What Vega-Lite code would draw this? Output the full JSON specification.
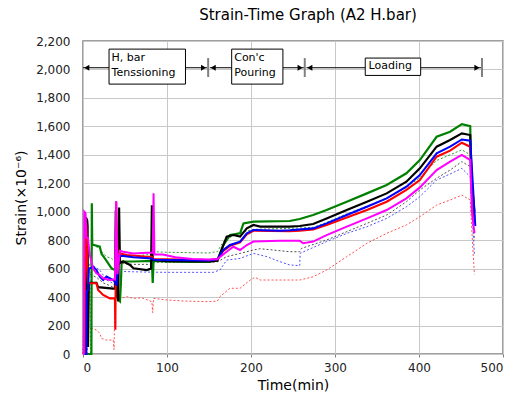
{
  "$schema": "https://vega.github.io/schema/vega-lite/v6.json",
  "width": 420,
  "height": 313,
  "autosize": {"type": "none"},
  "padding": {"left": 83, "top": 41, "right": 15, "bottom": 42},
  "background": "white",
  "title": {"text": "Strain-Time Graph (A2 H.bar)", "font": "DejaVu Sans", "fontSize": 15, "fontWeight": "normal", "color": "#000000", "anchor": "middle", "dx": 15, "offset": 12},
  "config": {
    "view": {"stroke": "#808080", "strokeWidth": 1.5},
    "axis": {"labelFont": "DejaVu Sans", "labelFontSize": 12, "labelColor": "#222222", "labelOverlap": false, "titleFont": "DejaVu Sans", "titleFontSize": 14, "titleFontWeight": "normal", "titleColor": "#000000", "gridColor": "#C8C8C8", "gridWidth": 1, "domain": false, "tickColor": "#808080"}
  },
  "resolve": {"scale": {"color": "independent", "strokeWidth": "independent"}},
  "datasets": {
    "solid": [
      {"s":"Green","t":0,"v":0},{"s":"Green","t":10,"v":0},{"s":"Green","t":10.5,"v":1060},{"s":"Green","t":11,"v":770},{"s":"Green","t":20,"v":755},{"s":"Green","t":22,"v":705},{"s":"Green","t":26,"v":672},{"s":"Green","t":30,"v":637},{"s":"Green","t":34,"v":602},{"s":"Green","t":38,"v":590},{"s":"Green","t":41,"v":560},{"s":"Green","t":42,"v":380},{"s":"Green","t":44,"v":370},{"s":"Green","t":45,"v":480},{"s":"Green","t":46,"v":650},{"s":"Green","t":60,"v":650},{"s":"Green","t":82,"v":655},{"s":"Green","t":83,"v":500},{"s":"Green","t":84,"v":655},{"s":"Green","t":100,"v":650},{"s":"Green","t":130,"v":648},{"s":"Green","t":150,"v":648},{"s":"Green","t":160,"v":660},{"s":"Green","t":167,"v":766},{"s":"Green","t":175,"v":836},{"s":"Green","t":187,"v":848},{"s":"Green","t":191,"v":918},{"s":"Green","t":203,"v":930},{"s":"Green","t":246,"v":935},{"s":"Green","t":258,"v":949},{"s":"Green","t":274,"v":977},{"s":"Green","t":290,"v":1012},{"s":"Green","t":314,"v":1070},{"s":"Green","t":338,"v":1129},{"s":"Green","t":361.5,"v":1188},{"s":"Green","t":385,"v":1270},{"s":"Green","t":401,"v":1363},{"s":"Green","t":421,"v":1527},{"s":"Green","t":437,"v":1562},{"s":"Green","t":451,"v":1616},{"s":"Green","t":461,"v":1602},{"s":"Green","t":462,"v":1200},{"s":"Green","t":465,"v":1000},

      {"s":"Black","t":0,"v":0},{"s":"Black","t":3,"v":0},{"s":"Black","t":3.5,"v":960},{"s":"Black","t":5,"v":940},{"s":"Black","t":5.5,"v":900},{"s":"Black","t":6,"v":50},{"s":"Black","t":7,"v":500},{"s":"Black","t":16,"v":500},{"s":"Black","t":18,"v":470},{"s":"Black","t":36,"v":460},{"s":"Black","t":38,"v":460},{"s":"Black","t":39,"v":1010},{"s":"Black","t":40,"v":420},{"s":"Black","t":42,"v":370},{"s":"Black","t":43,"v":1030},{"s":"Black","t":44,"v":640},{"s":"Black","t":48,"v":650},{"s":"Black","t":56,"v":626},{"s":"Black","t":60,"v":602},{"s":"Black","t":76,"v":590},{"s":"Black","t":81,"v":600},{"s":"Black","t":82,"v":1045},{"s":"Black","t":83,"v":660},{"s":"Black","t":100,"v":652},{"s":"Black","t":150,"v":650},{"s":"Black","t":160,"v":655},{"s":"Black","t":171,"v":825},{"s":"Black","t":179,"v":836},{"s":"Black","t":187,"v":825},{"s":"Black","t":195,"v":883},{"s":"Black","t":203,"v":907},{"s":"Black","t":211,"v":895},{"s":"Black","t":246,"v":895},{"s":"Black","t":258,"v":900},{"s":"Black","t":274,"v":914},{"s":"Black","t":290,"v":953},{"s":"Black","t":314,"v":1012},{"s":"Black","t":338,"v":1070},{"s":"Black","t":361.5,"v":1129},{"s":"Black","t":385,"v":1211},{"s":"Black","t":401,"v":1305},{"s":"Black","t":421,"v":1457},{"s":"Black","t":437,"v":1504},{"s":"Black","t":451,"v":1551},{"s":"Black","t":461,"v":1539},{"s":"Black","t":463,"v":1200},{"s":"Black","t":466,"v":1000},

      {"s":"Red","t":0,"v":0},{"s":"Red","t":2,"v":0},{"s":"Red","t":2.5,"v":950},{"s":"Red","t":4,"v":900},{"s":"Red","t":5,"v":600},{"s":"Red","t":6,"v":497},{"s":"Red","t":16,"v":497},{"s":"Red","t":18,"v":450},{"s":"Red","t":24,"v":415},{"s":"Red","t":32,"v":391},{"s":"Red","t":38,"v":391},{"s":"Red","t":38.5,"v":170},{"s":"Red","t":39.5,"v":1070},{"s":"Red","t":41,"v":700},{"s":"Red","t":44,"v":707},{"s":"Red","t":52,"v":696},{"s":"Red","t":76,"v":684},{"s":"Red","t":82,"v":684},{"s":"Red","t":84,"v":668},{"s":"Red","t":100,"v":665},{"s":"Red","t":150,"v":660},{"s":"Red","t":160,"v":665},{"s":"Red","t":167,"v":725},{"s":"Red","t":175,"v":760},{"s":"Red","t":187,"v":785},{"s":"Red","t":195,"v":842},{"s":"Red","t":203,"v":866},{"s":"Red","t":246,"v":864},{"s":"Red","t":258,"v":867},{"s":"Red","t":274,"v":875},{"s":"Red","t":290,"v":907},{"s":"Red","t":314,"v":960},{"s":"Red","t":338,"v":1012},{"s":"Red","t":361.5,"v":1070},{"s":"Red","t":385,"v":1153},{"s":"Red","t":401,"v":1223},{"s":"Red","t":421,"v":1387},{"s":"Red","t":437,"v":1429},{"s":"Red","t":451,"v":1485},{"s":"Red","t":461,"v":1457},{"s":"Red","t":463,"v":1200},{"s":"Red","t":466,"v":950},

      {"s":"Blue","t":0,"v":0},{"s":"Blue","t":4,"v":0},{"s":"Blue","t":4.5,"v":440},{"s":"Blue","t":6,"v":450},{"s":"Blue","t":7,"v":600},{"s":"Blue","t":12,"v":614},{"s":"Blue","t":16,"v":590},{"s":"Blue","t":20,"v":544},{"s":"Blue","t":24,"v":520},{"s":"Blue","t":28,"v":544},{"s":"Blue","t":36,"v":520},{"s":"Blue","t":38,"v":508},{"s":"Blue","t":40,"v":480},{"s":"Blue","t":42,"v":690},{"s":"Blue","t":48,"v":689},{"s":"Blue","t":60,"v":680},{"s":"Blue","t":82,"v":672},{"s":"Blue","t":84,"v":662},{"s":"Blue","t":100,"v":660},{"s":"Blue","t":150,"v":658},{"s":"Blue","t":160,"v":665},{"s":"Blue","t":167,"v":731},{"s":"Blue","t":175,"v":766},{"s":"Blue","t":187,"v":790},{"s":"Blue","t":195,"v":848},{"s":"Blue","t":203,"v":872},{"s":"Blue","t":234.5,"v":867},{"s":"Blue","t":246,"v":870},{"s":"Blue","t":274,"v":883},{"s":"Blue","t":290,"v":918},{"s":"Blue","t":314,"v":977},{"s":"Blue","t":338,"v":1035},{"s":"Blue","t":361.5,"v":1094},{"s":"Blue","t":385,"v":1176},{"s":"Blue","t":401,"v":1258},{"s":"Blue","t":421,"v":1410},{"s":"Blue","t":437,"v":1457},{"s":"Blue","t":451,"v":1508},{"s":"Blue","t":461,"v":1499},{"s":"Blue","t":463,"v":1300},{"s":"Blue","t":466,"v":1000},{"s":"Blue","t":467,"v":900},

      {"s":"Magenta","t":0,"v":0},{"s":"Magenta","t":1,"v":0},{"s":"Magenta","t":1.5,"v":1000},{"s":"Magenta","t":3,"v":990},{"s":"Magenta","t":4,"v":820},{"s":"Magenta","t":6,"v":813},{"s":"Magenta","t":8,"v":700},{"s":"Magenta","t":12,"v":600},{"s":"Magenta","t":16,"v":567},{"s":"Magenta","t":20,"v":555},{"s":"Magenta","t":24,"v":532},{"s":"Magenta","t":32,"v":520},{"s":"Magenta","t":38,"v":525},{"s":"Magenta","t":39.5,"v":1075},{"s":"Magenta","t":41,"v":560},{"s":"Magenta","t":44,"v":725},{"s":"Magenta","t":48,"v":719},{"s":"Magenta","t":60,"v":707},{"s":"Magenta","t":76,"v":712},{"s":"Magenta","t":83,"v":712},{"s":"Magenta","t":84,"v":1130},{"s":"Magenta","t":85,"v":700},{"s":"Magenta","t":95,"v":700},{"s":"Magenta","t":110,"v":680},{"s":"Magenta","t":130,"v":668},{"s":"Magenta","t":150,"v":665},{"s":"Magenta","t":160,"v":668},{"s":"Magenta","t":171,"v":719},{"s":"Magenta","t":179,"v":754},{"s":"Magenta","t":187,"v":731},{"s":"Magenta","t":195,"v":766},{"s":"Magenta","t":203,"v":790},{"s":"Magenta","t":234.5,"v":796},{"s":"Magenta","t":258,"v":796},{"s":"Magenta","t":262,"v":778},{"s":"Magenta","t":274,"v":790},{"s":"Magenta","t":290,"v":836},{"s":"Magenta","t":314,"v":895},{"s":"Magenta","t":338,"v":953},{"s":"Magenta","t":361.5,"v":1012},{"s":"Magenta","t":385,"v":1094},{"s":"Magenta","t":401,"v":1171},{"s":"Magenta","t":421,"v":1293},{"s":"Magenta","t":437,"v":1352},{"s":"Magenta","t":451,"v":1399},{"s":"Magenta","t":461,"v":1363},{"s":"Magenta","t":463,"v":1000},{"s":"Magenta","t":466,"v":850}
    ],
    "dotted": [
      {"s":"GreenD","t":0,"v":0},{"s":"GreenD","t":9,"v":0},{"s":"GreenD","t":9.5,"v":700},{"s":"GreenD","t":12,"v":766},{"s":"GreenD","t":20,"v":742},{"s":"GreenD","t":24,"v":707},{"s":"GreenD","t":28,"v":684},{"s":"GreenD","t":34,"v":672},{"s":"GreenD","t":38,"v":650},{"s":"GreenD","t":42,"v":600},{"s":"GreenD","t":44,"v":690},{"s":"GreenD","t":60,"v":690},{"s":"GreenD","t":82,"v":700},{"s":"GreenD","t":84,"v":719},{"s":"GreenD","t":100,"v":715},{"s":"GreenD","t":150,"v":710},{"s":"GreenD","t":160,"v":720},{"s":"GreenD","t":167,"v":790},{"s":"GreenD","t":183,"v":848},{"s":"GreenD","t":203,"v":876},{"s":"GreenD","t":246,"v":883},{"s":"GreenD","t":274,"v":890},{"s":"GreenD","t":290,"v":925},{"s":"GreenD","t":314,"v":985},{"s":"GreenD","t":338,"v":1040},{"s":"GreenD","t":361.5,"v":1095},{"s":"GreenD","t":385,"v":1170},{"s":"GreenD","t":401,"v":1240},{"s":"GreenD","t":421,"v":1360},{"s":"GreenD","t":437,"v":1400},{"s":"GreenD","t":451,"v":1435},{"s":"GreenD","t":461,"v":1400},{"s":"GreenD","t":463,"v":1100},{"s":"GreenD","t":466,"v":900},

      {"s":"GrayD","t":0,"v":0},{"s":"GrayD","t":5,"v":0},{"s":"GrayD","t":5.5,"v":600},{"s":"GrayD","t":8,"v":560},{"s":"GrayD","t":16,"v":540},{"s":"GrayD","t":24,"v":500},{"s":"GrayD","t":36,"v":470},{"s":"GrayD","t":40,"v":450},{"s":"GrayD","t":42,"v":600},{"s":"GrayD","t":44,"v":637},{"s":"GrayD","t":60,"v":630},{"s":"GrayD","t":82,"v":630},{"s":"GrayD","t":84,"v":645},{"s":"GrayD","t":100,"v":645},{"s":"GrayD","t":150,"v":643},{"s":"GrayD","t":160,"v":648},{"s":"GrayD","t":171,"v":684},{"s":"GrayD","t":187,"v":707},{"s":"GrayD","t":203,"v":731},{"s":"GrayD","t":211,"v":740},{"s":"GrayD","t":246,"v":719},{"s":"GrayD","t":258,"v":719},{"s":"GrayD","t":260,"v":742},{"s":"GrayD","t":290,"v":801},{"s":"GrayD","t":314,"v":860},{"s":"GrayD","t":338,"v":918},{"s":"GrayD","t":361.5,"v":977},{"s":"GrayD","t":385,"v":1070},{"s":"GrayD","t":401,"v":1153},{"s":"GrayD","t":421,"v":1235},{"s":"GrayD","t":437,"v":1293},{"s":"GrayD","t":451,"v":1352},{"s":"GrayD","t":461,"v":1317},{"s":"GrayD","t":463,"v":1050},{"s":"GrayD","t":466,"v":800},

      {"s":"BlueD","t":0,"v":0},{"s":"BlueD","t":1,"v":240},{"s":"BlueD","t":2,"v":100},{"s":"BlueD","t":6,"v":600},{"s":"BlueD","t":8,"v":640},{"s":"BlueD","t":12,"v":620},{"s":"BlueD","t":20,"v":590},{"s":"BlueD","t":28,"v":520},{"s":"BlueD","t":36,"v":497},{"s":"BlueD","t":40,"v":470},{"s":"BlueD","t":42,"v":560},{"s":"BlueD","t":46,"v":580},{"s":"BlueD","t":60,"v":578},{"s":"BlueD","t":82,"v":575},{"s":"BlueD","t":100,"v":574},{"s":"BlueD","t":155,"v":574},{"s":"BlueD","t":163,"v":590},{"s":"BlueD","t":171,"v":660},{"s":"BlueD","t":187,"v":672},{"s":"BlueD","t":203,"v":707},{"s":"BlueD","t":219,"v":684},{"s":"BlueD","t":234.5,"v":649},{"s":"BlueD","t":246,"v":626},{"s":"BlueD","t":258,"v":621},{"s":"BlueD","t":258.5,"v":708},{"s":"BlueD","t":290,"v":790},{"s":"BlueD","t":314,"v":848},{"s":"BlueD","t":338,"v":895},{"s":"BlueD","t":361.5,"v":953},{"s":"BlueD","t":385,"v":1035},{"s":"BlueD","t":401,"v":1106},{"s":"BlueD","t":421,"v":1223},{"s":"BlueD","t":437,"v":1265},{"s":"BlueD","t":451,"v":1305},{"s":"BlueD","t":461,"v":1246},{"s":"BlueD","t":463,"v":1000},{"s":"BlueD","t":466,"v":700},

      {"s":"RedD","t":0,"v":0},{"s":"RedD","t":3,"v":700},{"s":"RedD","t":4,"v":200},{"s":"RedD","t":6,"v":192},{"s":"RedD","t":16,"v":169},{"s":"RedD","t":20,"v":145},{"s":"RedD","t":22,"v":110},{"s":"RedD","t":28,"v":98},{"s":"RedD","t":36,"v":98},{"s":"RedD","t":37,"v":30},{"s":"RedD","t":38,"v":410},{"s":"RedD","t":44,"v":391},{"s":"RedD","t":52,"v":403},{"s":"RedD","t":60,"v":391},{"s":"RedD","t":70,"v":395},{"s":"RedD","t":82,"v":368},{"s":"RedD","t":83,"v":290},{"s":"RedD","t":84,"v":391},{"s":"RedD","t":100,"v":380},{"s":"RedD","t":120,"v":372},{"s":"RedD","t":150,"v":368},{"s":"RedD","t":160,"v":372},{"s":"RedD","t":163,"v":403},{"s":"RedD","t":175,"v":462},{"s":"RedD","t":187,"v":462},{"s":"RedD","t":199,"v":520},{"s":"RedD","t":205,"v":539},{"s":"RedD","t":211,"v":520},{"s":"RedD","t":246,"v":520},{"s":"RedD","t":258,"v":520},{"s":"RedD","t":274,"v":543},{"s":"RedD","t":290,"v":590},{"s":"RedD","t":314,"v":684},{"s":"RedD","t":338,"v":778},{"s":"RedD","t":361.5,"v":848},{"s":"RedD","t":385,"v":907},{"s":"RedD","t":401,"v":965},{"s":"RedD","t":421,"v":1047},{"s":"RedD","t":437,"v":1082},{"s":"RedD","t":451,"v":1117},{"s":"RedD","t":461,"v":1082},{"s":"RedD","t":464,"v":750},{"s":"RedD","t":466,"v":560}
    ],
    "spans": [
      {"a":0,"b":148,"l":4.5,"r":143.5},
      {"a":151,"b":263,"l":155,"r":258.5},
      {"a":266,"b":474,"l":270,"r":469}
    ],
    "marks": [{"m":149},{"m":264},{"m":475}],
    "boxes": [
      {"a":31,"b":122,"lo":1897,"hi":2143},
      {"a":177,"b":238,"lo":1897,"hi":2143},
      {"a":336,"b":402,"lo":1958,"hi":2080}
    ],
    "labels": [
      {"t":34,"v":2080,"txt":"H, bar"},
      {"t":34,"v":1975,"txt":"Tenssioning"},
      {"t":180,"v":2080,"txt":"Con'c"},
      {"t":180,"v":1975,"txt":"Pouring"},
      {"t":340,"v":2022,"txt":"Loading"}
    ]
  },
  "layer": [
    {
      "data": {"name": "dotted"},
      "mark": {"type": "line", "strokeWidth": 1, "strokeDash": [2, 2], "interpolate": "linear"},
      "encoding": {
        "x": {"field": "t", "type": "quantitative", "scale": {"domain": [0, 500]}, "axis": {"values": [0, 100, 200, 300, 400, 500], "title": "Time(min)", "tickSize": 3, "labelPadding": 5, "titlePadding": 5, "grid": true, "labelOverlap": false}},
        "y": {"field": "v", "type": "quantitative", "scale": {"domain": [0, 2200]}, "axis": {"values": [0, 200, 400, 600, 800, 1000, 1200, 1400, 1600, 1800, 2000, 2200], "tickCount": 12, "format": ",.0f", "ticks": false, "labelPadding": 13, "title": "Strain(×10⁻⁶)", "titlePadding": 7, "grid": true, "labelOverlap": false, "labelSeparation": 0}},
        "color": {"field": "s", "type": "nominal", "legend": null, "scale": {"domain": ["GreenD", "GrayD", "BlueD", "RedD"], "range": ["#2E9A2E", "#505050", "#5050FF", "#FF5050"]}}
      }
    },
    {
      "data": {"name": "solid"},
      "mark": {"type": "line", "interpolate": "linear"},
      "encoding": {
        "x": {"field": "t", "type": "quantitative", "axis": {"values": [0, 100, 200, 300, 400, 500], "title": "Time(min)", "tickSize": 3, "labelPadding": 5, "titlePadding": 5, "grid": true, "labelOverlap": false}},
        "y": {"field": "v", "type": "quantitative", "axis": {"values": [0, 200, 400, 600, 800, 1000, 1200, 1400, 1600, 1800, 2000, 2200], "tickCount": 12, "format": ",.0f", "ticks": false, "labelPadding": 13, "title": "Strain(×10⁻⁶)", "titlePadding": 7, "grid": true, "labelOverlap": false, "labelSeparation": 0}},
        "color": {"field": "s", "type": "nominal", "legend": null, "scale": {"domain": ["Green", "Black", "Red", "Blue", "Magenta"], "range": ["#008000", "#000000", "#FF0000", "#0000FF", "#FF00FF"]}},
        "strokeWidth": {"field": "s", "type": "nominal", "legend": null, "scale": {"domain": ["Green", "Black", "Red", "Blue", "Magenta"], "range": [2.2, 2, 2, 2.8, 4.5]}}
      }
    },
    {
      "data": {"name": "spans"},
      "mark": {"type": "rule", "color": "#000000", "strokeWidth": 1},
      "encoding": {"x": {"field": "a", "type": "quantitative", "title": "Time(min)"}, "x2": {"field": "b"}, "y": {"datum": 2012, "title": "Strain(×10⁻⁶)"}}
    },
    {
      "data": {"name": "spans"},
      "mark": {"type": "point", "shape": "triangle-left", "filled": true, "color": "#000000", "size": 35, "opacity": 1},
      "encoding": {"x": {"field": "l", "type": "quantitative", "title": "Time(min)"}, "y": {"datum": 2012, "title": "Strain(×10⁻⁶)"}}
    },
    {
      "data": {"name": "spans"},
      "mark": {"type": "point", "shape": "triangle-right", "filled": true, "color": "#000000", "size": 35, "opacity": 1},
      "encoding": {"x": {"field": "r", "type": "quantitative", "title": "Time(min)"}, "y": {"datum": 2012, "title": "Strain(×10⁻⁶)"}}
    },
    {
      "data": {"name": "marks"},
      "mark": {"type": "rule", "color": "#808080", "strokeWidth": 2},
      "encoding": {"x": {"field": "m", "type": "quantitative", "title": "Time(min)"}, "y": {"datum": 1947, "title": "Strain(×10⁻⁶)"}, "y2": {"datum": 2080}}
    },
    {
      "data": {"name": "boxes"},
      "mark": {"type": "rect", "fill": "#FFFFFF", "stroke": "#000000", "strokeWidth": 1},
      "encoding": {"x": {"field": "a", "type": "quantitative", "title": "Time(min)"}, "x2": {"field": "b"}, "y": {"field": "lo", "type": "quantitative", "title": "Strain(×10⁻⁶)"}, "y2": {"field": "hi"}}
    },
    {
      "data": {"name": "labels"},
      "mark": {"type": "text", "align": "left", "baseline": "middle", "font": "DejaVu Sans", "fontSize": 11, "color": "#000000"},
      "encoding": {"x": {"field": "t", "type": "quantitative", "title": "Time(min)"}, "y": {"field": "v", "type": "quantitative", "title": "Strain(×10⁻⁶)"}, "text": {"field": "txt"}}
    }
  ]
}
